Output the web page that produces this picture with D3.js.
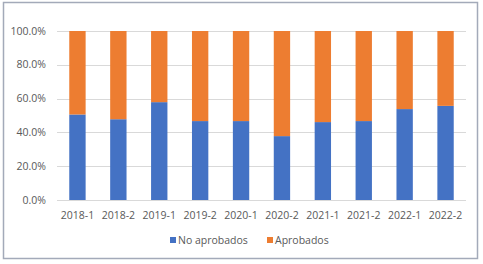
<!DOCTYPE html>
<html>
<head>
<meta charset="utf-8">
<script src="https://cdn.jsdelivr.net/npm/d3@7"></script>
<style>
  body { margin: 0; background: #fff; }
  svg text { font-family: "Open Sans", "Liberation Sans", sans-serif; fill: #595959; }
</style>
</head>
<body>
<div id="chart"></div>
<script>
// data
var periodos = ["2018-1", "2018-2", "2019-1", "2019-2", "2020-1", "2020-2", "2021-1", "2021-2", "2022-1", "2022-2"];
var noAprobados = [50.6, 47.8, 57.9, 46.7, 46.7, 37.8, 46.1, 46.7, 53.8, 55.7];
var aprobados = noAprobados.map(function(v) { return 100 - v; });
var yTicks = [0, 20, 40, 60, 80, 100];
var series = ["No aprobados", "Aprobados"];
var colors = ["#4472C4", "#ED7D31"];

var W = 483, H = 264;
var margin = {top: 31, right: 17, bottom: 64, left: 57},
    width = W - margin.left - margin.right,
    height = H - margin.top - margin.bottom;

var root = d3.select("#chart")
  .append("svg")
    .attr("width", W)
    .attr("height", H);

// outer frame
root.append("rect")
  .attr("x", 3.5).attr("y", 2.5)
  .attr("width", 474).attr("height", 256)
  .attr("fill", "none")
  .attr("stroke", "#a3aab9")
  .attr("stroke-width", 1.5);

var svg = root.append("g")
  .attr("transform", "translate(" + margin.left + "," + margin.top + ")");

var x = d3.scaleBand()
  .domain(periodos)
  .range([0, width])
  .paddingInner(0.6)
  .paddingOuter(0.3);

var y = d3.scaleLinear()
  .domain([0, 100])
  .range([height, 0]);

// gridlines
svg.append("g")
  .selectAll("line")
  .data(yTicks)
  .enter()
  .append("line")
    .attr("x1", 0).attr("x2", width)
    .attr("y1", function(d) { return Math.round(y(d)) + 0.5; })
    .attr("y2", function(d) { return Math.round(y(d)) + 0.5; })
    .attr("stroke", "#d9d9d9")
    .attr("stroke-width", 1);

// y labels
svg.append("g")
  .selectAll("text")
  .data(yTicks)
  .enter()
  .append("text")
    .attr("x", -11)
    .attr("y", function(d) { return y(d); })
    .attr("dy", "0.35em")
    .attr("text-anchor", "end")
    .style("font-size", "10.5px")
    .text(function(d) { return d.toFixed(1) + "%"; });

// stacked bars
var rows = periodos.map(function(p, i) { return {p: p, no: noAprobados[i], si: aprobados[i]}; });
var stack = d3.stack().keys(["no", "si"])(rows);

svg.append("g")
  .selectAll("g")
  .data(stack)
  .enter()
  .append("g")
    .attr("fill", function(d, i) { return colors[i]; })
  .selectAll("rect")
  .data(function(d) { return d; })
  .enter()
  .append("rect")
    .attr("x", function(d) { return x(d.data.p); })
    .attr("y", function(d) { return y(d[1]); })
    .attr("width", x.bandwidth())
    .attr("height", function(d) { return y(d[0]) - y(d[1]); });

// x labels
svg.append("g")
  .selectAll("text")
  .data(periodos)
  .enter()
  .append("text")
    .attr("x", function(d) { return x(d) + x.bandwidth() / 2; })
    .attr("y", height + 15)
    .attr("dy", "0.35em")
    .attr("text-anchor", "middle")
    .style("font-size", "10.5px")
    .text(function(d) { return d; });

// legend
var legendX = [170, 267];
var legend = root.append("g");
series.forEach(function(s, i) {
  legend.append("rect")
    .attr("x", legendX[i]).attr("y", 237)
    .attr("width", 6).attr("height", 6)
    .attr("fill", colors[i]);
  legend.append("text")
    .attr("x", legendX[i] + 8).attr("y", 240)
    .attr("dy", "0.35em")
    .style("font-size", "10.5px")
    .text(s);
});
</script>
</body>
</html>
